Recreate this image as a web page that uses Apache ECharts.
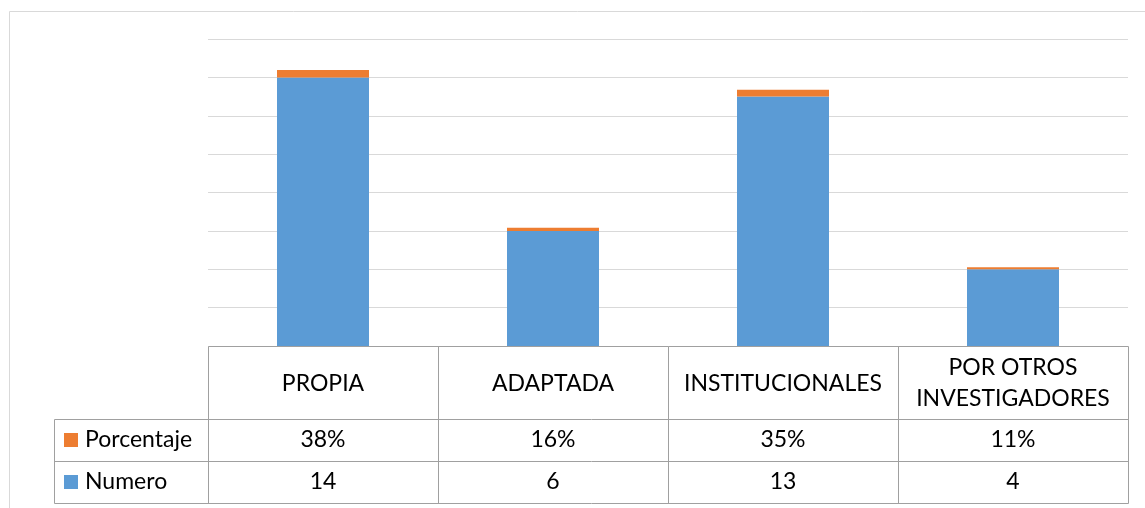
<!DOCTYPE html>
<html>
<head>
<meta charset="utf-8">
<script src="https://cdn.jsdelivr.net/npm/echarts@6/dist/echarts.min.js"></script>
<style>
html, body { margin: 0; padding: 0; background: #fff; }
#mainChart { width: 1145px; height: 508px; }
</style>
</head>
<body>
<div id="mainChart"></div>
<script>
// datos
const categories = ['PROPIA', 'ADAPTADA', 'INSTITUCIONALES', 'POR OTROS\nINVESTIGADORES'];
const numero = [14, 6, 13, 4];
const porcentaje = [0.38, 0.16, 0.35, 0.11];
const yTicks = [0, 2, 4, 6, 8, 10, 12, 14, 16];

const BLUE = '#5b9bd5';
const ORANGE = '#ed7d31';
const LINE = '#a0a0a0';
const FONT = '23px Lato';

const chart = echarts.init(document.getElementById('mainChart'));

chart.setOption({
    animation: false,
    grid: { left: 208, right: 17, top: 39, bottom: 162 },
    xAxis: {
        type: 'category',
        data: categories,
        axisLine: { show: false },
        axisTick: { show: false },
        axisLabel: { show: false }
    },
    yAxis: {
        type: 'value',
        min: yTicks[0],
        max: yTicks[yTicks.length - 1],
        interval: yTicks[1] - yTicks[0],
        axisLabel: { show: false },
        axisLine: { show: false },
        axisTick: { show: false },
        splitLine: { lineStyle: { color: '#d9d9d9', width: 1 } }
    },
    series: [
        { name: 'Numero', type: 'bar', stack: 'a', data: numero, barWidth: '40%', itemStyle: { color: BLUE } },
        { name: 'Porcentaje', type: 'bar', stack: 'a', data: porcentaje, barWidth: '40%', itemStyle: { color: ORANGE } }
    ]
});

// tabla de datos debajo del grafico
function buildTable() {
    const px = v => Math.round(v) + 0.5;
    const baseY = chart.convertToPixel({ yAxisIndex: 0 }, 0);
    const centers = categories.map((c, i) => chart.convertToPixel({ xAxisIndex: 0 }, i));
    const half = (centers[1] - centers[0]) / 2;
    const leftX = centers[0] - half;
    const rightX = centers[centers.length - 1] + half;
    const legendX = 54;
    const headerH = 73, rowH = 42;

    const rows = [
        { name: 'Porcentaje', color: ORANGE, values: porcentaje.map(v => Math.round(v * 100) + '%') },
        { name: 'Numero', color: BLUE, values: numero.map(String) }
    ];

    const els = [];
    const line = (x1, y1, x2, y2) => els.push({
        type: 'line', silent: true,
        shape: { x1: px(x1), y1: px(y1), x2: px(x2), y2: px(y2) },
        style: { stroke: LINE, lineWidth: 1 }
    });
    const text = (t, x, y, align) => els.push({
        type: 'text', silent: true,
        style: { text: t, x: x, y: y, fill: '#000', font: FONT, align: align || 'center', verticalAlign: 'middle', lineHeight: 31 }
    });

    const bottomY = baseY + headerH + rowH * rows.length;
    line(leftX, baseY, rightX, baseY);
    for (let i = 0; i <= categories.length; i++) {
        const x = leftX + i * half * 2;
        line(x, baseY, x, bottomY);
    }
    line(legendX, baseY + headerH, legendX, bottomY);
    for (let r = 0; r <= rows.length; r++) {
        const y = baseY + headerH + r * rowH;
        line(legendX, y, rightX, y);
    }

    categories.forEach((c, i) => text(c, centers[i], baseY + headerH / 2 + 1));
    rows.forEach((row, r) => {
        const cy = baseY + headerH + r * rowH + rowH / 2;
        els.push({ type: 'rect', silent: true, shape: { x: 64, y: cy - 7, width: 14, height: 14 }, style: { fill: row.color } });
        text(row.name, 85, cy, 'left');
        row.values.forEach((v, i) => text(v, centers[i], cy));
    });

    // borde exterior
    els.push({ type: 'rect', silent: true, shape: { x: 9.5, y: 11.5, width: 1145, height: 508 }, style: { fill: null, stroke: '#d9d9d9', lineWidth: 1 } });

    chart.setOption({ graphic: { elements: els } });
}

buildTable();
</script>
</body>
</html>
